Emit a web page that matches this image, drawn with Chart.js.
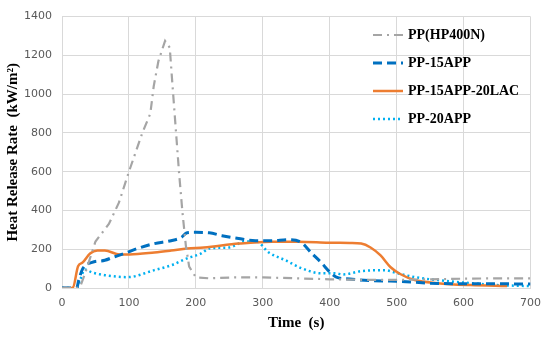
<!DOCTYPE html>
<html>
<head>
<meta charset="utf-8">
<script src="https://cdn.jsdelivr.net/npm/chart.js@4/dist/chart.umd.min.js"></script>
<style>
  html, body { margin: 0; padding: 0; background: #fff; }
  #wrap { width: 550px; height: 342px; position: relative; }
</style>
</head>
<body>
<div id="wrap"><canvas id="hrrChart"></canvas></div>
<script>
// Heat release rate curves (time in s, HRR in kW/m2)
const seriesNames = ['PP(HP400N)', 'PP-15APP', 'PP-15APP-20LAC', 'PP-20APP'];

const timeHP400N = [0, 20, 27, 35, 50, 70, 85, 100, 120, 132, 137, 144, 154, 161, 165, 170, 175, 180, 185, 190, 200, 220, 260, 300, 350, 400, 450, 500, 550, 600, 650, 700];
const hrrHP400N  = [0, 0, 5, 80, 240, 330, 440, 600, 800, 900, 1040, 1170, 1275, 1240, 1050, 820, 590, 390, 220, 110, 55, 50, 55, 55, 50, 45, 42, 42, 45, 48, 50, 50];

const time15APP = [0, 22, 25, 31, 45, 64, 76, 93, 113, 138, 163, 178, 187, 200, 220, 239, 264, 289, 313, 338, 358, 372, 387, 402, 410, 430, 480, 500, 550, 600, 650, 700];
const hrr15APP  = [0, 0, 40, 100, 132, 143, 158, 178, 204, 229, 244, 260, 285, 287, 285, 270, 255, 244, 244, 249, 234, 183, 132, 76, 56, 46, 36, 35, 25, 22, 22, 20];

const time15APP20LAC = [0, 16, 24, 31, 42, 53, 64, 86, 101, 138, 163, 187, 212, 264, 313, 353, 398, 430, 447, 461, 476, 491, 506, 527, 561, 610, 665];
const hrr15APP20LAC  = [0, 0, 112, 132, 178, 193, 193, 173, 173, 183, 193, 204, 209, 229, 239, 239, 234, 232, 229, 209, 168, 107, 71, 41, 25, 15, 10];

const time20APP = [0, 22, 27, 34, 45, 56, 64, 98, 138, 163, 187, 208, 220, 249, 274, 290, 309, 334, 358, 387, 408, 420, 447, 482, 501, 527, 561, 610, 650, 700];
const hrr20APP  = [0, 0, 40, 95, 80, 71, 66, 56, 92, 117, 153, 178, 204, 209, 240, 240, 183, 143, 102, 76, 76, 70, 87, 92, 76, 56, 41, 25, 15, 10];

const xTicks = [0, 100, 200, 300, 400, 500, 600, 700];
const yTicks = [0, 200, 400, 600, 800, 1000, 1200, 1400];

const toPoints = (ts, vs) => ts.map((t, i) => ({ x: t, y: vs[i] }));

// Legend drawn inside the plot, top right
const insideLegend = {
    id: 'insideLegend',
    afterDraw(chart) {
        const ctx = chart.ctx;
        const x0 = 373, x1 = 403, textX = 408;
        const rows = [35, 63, 91, 119];
        ctx.save();
        ctx.font = 'bold 14px "Liberation Serif", "Times New Roman", serif';
        ctx.textBaseline = 'middle';
        chart.data.datasets.forEach((ds, i) => {
            const y = rows[i];
            ctx.beginPath();
            ctx.strokeStyle = ds.borderColor;
            ctx.lineWidth = ds.borderWidth;
            ctx.setLineDash(ds.borderDash || []);
            ctx.moveTo(x0, y);
            ctx.lineTo(x1, y);
            ctx.stroke();
            ctx.setLineDash([]);
            ctx.fillStyle = '#000';
            ctx.fillText(ds.label, textX, y);
        });
        ctx.restore();
    }
};

const ctx = document.getElementById('hrrChart').getContext('2d');
new Chart(ctx, {
    type: 'line',
    data: {
        datasets: [
            {
                label: seriesNames[0],
                data: toPoints(timeHP400N, hrrHP400N),
                borderColor: '#A5A5A5',
                borderWidth: 2.2,
                borderDash: [9, 5, 2, 5],
                pointRadius: 0,
                tension: 0
            },
            {
                label: seriesNames[1],
                data: toPoints(time15APP, hrr15APP),
                borderColor: '#0070C0',
                borderWidth: 3,
                borderDash: [9, 5],
                pointRadius: 0,
                cubicInterpolationMode: 'monotone'
            },
            {
                label: seriesNames[2],
                data: toPoints(time15APP20LAC, hrr15APP20LAC),
                borderColor: '#ED7D31',
                borderWidth: 2.5,
                pointRadius: 0,
                cubicInterpolationMode: 'monotone'
            },
            {
                label: seriesNames[3],
                data: toPoints(time20APP, hrr20APP),
                borderColor: '#00B0F0',
                borderWidth: 2.5,
                borderDash: [2, 3],
                pointRadius: 0,
                cubicInterpolationMode: 'monotone'
            }
        ]
    },
    options: {
        responsive: true,
        maintainAspectRatio: false,
        animation: false,
        layout: { padding: { top: 13, right: 16, bottom: 0, left: 0 } },
        plugins: {
            legend: { display: false },
            tooltip: { enabled: false }
        },
        scales: {
            x: {
                type: 'linear',
                min: 0,
                max: 700,
                afterBuildTicks: axis => { axis.ticks = xTicks.map(v => ({ value: v })); },
                afterFit: axis => { axis.height = 54; },
                grid: { color: '#d9d9d9', drawTicks: false },
                border: { color: '#d9d9d9' },
                ticks: {
                    padding: 9,
                    color: '#595959',
                    font: { family: 'DejaVu Sans', size: 11 },
                    callback: v => String(v)
                },
                title: {
                    display: true,
                    text: 'Time  (s)',
                    color: '#000',
                    padding: { top: 0, bottom: 10 },
                    font: { family: 'Liberation Serif', size: 15, weight: 'bold' }
                }
            },
            y: {
                min: 0,
                max: 1400,
                afterBuildTicks: axis => { axis.ticks = yTicks.map(v => ({ value: v })); },
                afterFit: axis => { axis.width = 62; },
                grid: { color: '#d9d9d9', drawTicks: false },
                border: { color: '#d9d9d9' },
                ticks: {
                    padding: 10,
                    color: '#595959',
                    font: { family: 'DejaVu Sans', size: 11 },
                    callback: v => String(v)
                },
                title: {
                    display: true,
                    text: 'Heat Release Rate  (kW/m²)',
                    color: '#000',
                    padding: { top: 4, bottom: 0 },
                    font: { family: 'Liberation Serif', size: 15, weight: 'bold' }
                }
            }
        }
    },
    plugins: [insideLegend]
});
</script>
</body>
</html>
